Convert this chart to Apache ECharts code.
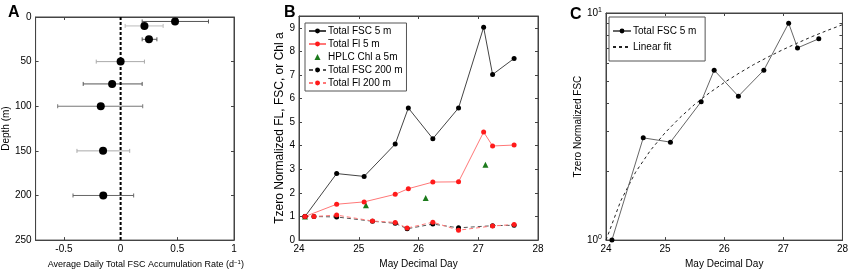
<!DOCTYPE html>
<html>
<head>
<meta charset="utf-8">
<script src="https://cdn.jsdelivr.net/npm/echarts@6/dist/echarts.min.js"></script>
<style>
    html, body {margin: 0; padding: 0; background: #fff;}
    #chart {width: 851px; height: 274px;}
</style>
</head>
<body>
<div id="chart"></div>
<script>
// panel A - accumulation rate by depth
var depthA = [5, 10, 25, 50, 75, 100, 150, 200];
var rateA = [0.48, 0.21, 0.25, 0.0, -0.075, -0.175, -0.155, -0.153];
var rateLoA = [0.19, 0.04, 0.19, -0.215, -0.33, -0.555, -0.385, -0.42];
var rateHiA = [0.775, 0.375, 0.32, 0.21, 0.19, 0.195, 0.08, 0.115];
var barShadeA = ['#555', '#bbb', '#555', '#aaa', '#555', '#777', '#aaa', '#666'];
var zeroLineX = [0, 0];
var zeroLineDepth = [0, 250];
var ticksXA = [-0.5, 0, 0.5, 1];
var ticksYA = [0, 50, 100, 150, 200, 250];

// panel B - normalized time series
var day5 = [24.1, 24.63, 25.09, 25.61, 25.83, 26.24, 26.67, 27.09, 27.24, 27.6];
var fsc5 = [1.0, 2.82, 2.7, 4.07, 5.6, 4.3, 5.6, 9.02, 7.02, 7.7];
var fl5 = [1.0, 1.52, 1.62, 1.94, 2.18, 2.46, 2.47, 4.58, 3.99, 4.03];
var dayChl = [24.1, 25.12, 26.12, 27.12];
var chl5 = [1.0, 1.48, 1.78, 3.19];
var day200 = [24.1, 24.25, 24.63, 25.23, 25.61, 25.81, 26.24, 26.67, 27.24, 27.6];
var fsc200 = [1.0, 1.0, 0.98, 0.8, 0.71, 0.48, 0.68, 0.52, 0.61, 0.63];
var fl200 = [1.0, 1.0, 1.06, 0.81, 0.75, 0.51, 0.76, 0.42, 0.6, 0.66];
var ticksXB = [24, 25, 26, 27, 28];
var ticksYB = [0, 1, 2, 3, 4, 5, 6, 7, 8, 9];

// panel C - log scale with fit
var fitDay = [24, 24.25, 24.5, 24.75, 25, 25.25, 25.5, 25.75, 26, 26.25, 26.5, 26.75, 27, 27.25, 27.5, 27.75, 28];
var fitVal = [1.0, 1.49, 1.99, 2.48, 2.97, 3.46, 3.96, 4.45, 4.94, 5.43, 5.93, 6.42, 6.91, 7.4, 7.9, 8.39, 8.88];
var ticksYC = [1, 10];
var minorYC = [1, 2, 3, 4, 5, 6, 7, 8, 9, 10];

var chart = echarts.init(document.getElementById('chart'));
var font = 'Liberation Sans';

function pairs(xs, ys) {
    var out = [];
    for (var i = 0; i < xs.length; i++) out.push([xs[i], ys[i]]);
    return out;
}

function mkAxis(grid, pos, type, min, max, ticks, labels, extra) {
    var a = {
        type: type, gridIndex: grid, position: pos, min: min, max: max,
        axisLine: {show: true, onZero: false, lineStyle: {color: '#444', width: 1}},
        axisTick: {show: true, inside: true, length: 3, customValues: ticks, lineStyle: {color: '#444'}},
        axisLabel: {show: labels, customValues: ticks, color: '#000', fontSize: 10, fontFamily: font, margin: 4},
        splitLine: {show: false},
        nameLocation: 'middle',
        nameTextStyle: {color: '#000', fontSize: 10, fontFamily: font}
    };
    for (var k in extra) a[k] = extra[k];
    return a;
}

var lineBase = {symbol: 'circle', symbolSize: 5};
var legendText = {fontSize: 10, color: '#000', fontFamily: font, padding: [0, 0, 0, -3]};
var triIcon = 'path://M0,10L5,0L10,10Z';

var option = {
    animation: false,
    textStyle: {fontFamily: font},
    title: [
        {text: 'A', left: 3, top: 0, textStyle: {fontSize: 16, fontWeight: 'bold', color: '#000'}},
        {text: 'B', left: 279, top: 0, textStyle: {fontSize: 16, fontWeight: 'bold', color: '#000'}},
        {text: 'C', left: 565, top: 2, textStyle: {fontSize: 16, fontWeight: 'bold', color: '#000'}}
    ],
    grid: [
        {left: 31, top: 17, width: 203, height: 230, show: true, borderColor: '#444', borderWidth: 1},
        {left: 299, top: 16, width: 239, height: 231, show: true, borderColor: '#444', borderWidth: 1},
        {left: 606, top: 13, width: 237, height: 233, show: true, borderColor: '#444', borderWidth: 1}
    ],
    legend: [
        {
            left: 305, top: 23, orient: 'vertical', itemGap: 3, itemWidth: 17, itemHeight: 6,
            padding: [3, 4, 3, 3], borderColor: '#555', borderWidth: 1,
            textStyle: legendText,
            data: ['Total FSC 5 m', 'Total Fl 5 m', {name: 'HPLC Chl a 5m', icon: triIcon},
                'Total FSC 200 m', 'Total Fl 200 m']
        },
        {
            left: 609, top: 17, orient: 'vertical', itemGap: 6, itemWidth: 18, itemHeight: 6,
            padding: [9, 6, 9, 3], borderColor: '#555', borderWidth: 1,
            textStyle: legendText,
            data: ['Total FSC 5 m ', {name: 'Linear fit', itemStyle: {opacity: 0}}]
        }
    ],
    xAxis: [
        mkAxis(0, 'bottom', 'value', -0.75, 1, ticksXA, true, {
            name: 'Average Daily Total FSC Accumulation Rate (d{sup|\u22121})', nameGap: 15,
            nameTextStyle: {color: '#000', fontSize: 9, fontFamily: font, padding: [0, 0, 0, 22],
                rich: {sup: {fontSize: 6, padding: [0, 0, 5, 0]}}}
        }),
        mkAxis(0, 'top', 'value', -0.75, 1, ticksXA, false, {}),
        mkAxis(1, 'bottom', 'value', 24, 28, ticksXB, true, {name: 'May Decimal Day', nameGap: 14}),
        mkAxis(1, 'top', 'value', 24, 28, ticksXB, false, {}),
        mkAxis(2, 'bottom', 'value', 24, 28, ticksXB, true, {name: 'May Decimal Day', nameGap: 14}),
        mkAxis(2, 'top', 'value', 24, 28, ticksXB, false, {})
    ],
    yAxis: [
        mkAxis(0, 'left', 'value', 0, 250, ticksYA, true, {inverse: true, name: 'Depth (m)', nameGap: 19}),
        mkAxis(0, 'right', 'value', 0, 250, ticksYA, false, {inverse: true}),
        mkAxis(1, 'left', 'value', 0, 9.5, ticksYB, true, {
            name: 'Tzero Normalized FL, FSC, or Chl a', nameGap: 3,
            nameTextStyle: {color: '#000', fontSize: 12, fontFamily: font}
        }),
        mkAxis(1, 'right', 'value', 0, 9.5, ticksYB, false, {}),
        mkAxis(2, 'left', 'log', 1, 10, minorYC, true, {
            name: 'Tzero Normalized FSC', nameGap: 22,
            axisLabel: {show: true, customValues: ticksYC, color: '#000', fontSize: 10, fontFamily: font, margin: 4,
                formatter: function (v) { return '10{sup|' + Math.round(Math.log(v) / Math.LN10) + '}'; },
                rich: {sup: {fontSize: 7, padding: [0, 0, 6, 0]}}}
        }),
        mkAxis(2, 'right', 'log', 1, 10, minorYC, false, {})
    ],
    series: [
        {
            type: 'custom', xAxisIndex: 0, yAxisIndex: 0,
            data: depthA.map(function (d, i) { return [rateLoA[i], d, rateHiA[i], i]; }),
            encode: {x: [0, 2], y: 1},
            renderItem: function (params, api) {
                var y = api.value(1);
                var a = api.coord([api.value(0), y]);
                var b = api.coord([api.value(2), y]);
                var c = barShadeA[api.value(3)];
                var st = {stroke: c, lineWidth: 1};
                return {type: 'group', children: [
                    {type: 'line', shape: {x1: a[0], y1: a[1], x2: b[0], y2: b[1]}, style: st},
                    {type: 'line', shape: {x1: a[0], y1: a[1] - 2, x2: a[0], y2: a[1] + 2}, style: st},
                    {type: 'line', shape: {x1: b[0], y1: b[1] - 2, x2: b[0], y2: b[1] + 2}, style: st}
                ]};
            }
        },
        {
            type: 'line', xAxisIndex: 0, yAxisIndex: 0, symbol: 'none',
            data: pairs(zeroLineX, zeroLineDepth),
            lineStyle: {color: '#000', width: 2, type: [3, 2]}
        },
        {
            type: 'scatter', xAxisIndex: 0, yAxisIndex: 0, symbolSize: 8,
            data: pairs(rateA, depthA), itemStyle: {color: '#000', opacity: 1}
        },
        // panel B
        Object.assign({}, lineBase, {
            name: 'Total FSC 200 m', type: 'line', xAxisIndex: 2, yAxisIndex: 2,
            data: pairs(day200, fsc200),
            lineStyle: {color: '#555', width: 1, type: [4, 3]}, itemStyle: {color: '#000'}
        }),
        Object.assign({}, lineBase, {
            name: 'Total Fl 200 m', type: 'line', xAxisIndex: 2, yAxisIndex: 2,
            data: pairs(day200, fl200),
            lineStyle: {color: '#ff7777', width: 1, type: [4, 3]}, itemStyle: {color: '#ff1a1a'}
        }),
        Object.assign({}, lineBase, {
            name: 'Total FSC 5 m', type: 'line', xAxisIndex: 2, yAxisIndex: 2,
            data: pairs(day5, fsc5),
            lineStyle: {color: '#444', width: 1}, itemStyle: {color: '#000'}
        }),
        Object.assign({}, lineBase, {
            name: 'Total Fl 5 m', type: 'line', xAxisIndex: 2, yAxisIndex: 2,
            data: pairs(day5, fl5),
            lineStyle: {color: '#ff7777', width: 1}, itemStyle: {color: '#ff1a1a'}
        }),
        {
            name: 'HPLC Chl a 5m', type: 'scatter', xAxisIndex: 2, yAxisIndex: 2,
            symbol: 'triangle', symbolSize: 6,
            data: pairs(dayChl, chl5), itemStyle: {color: '#1b7a1b', opacity: 1}
        },
        // panel C
        {
            name: 'Linear fit', type: 'line', xAxisIndex: 4, yAxisIndex: 4, symbol: 'none',
            data: pairs(fitDay, fitVal),
            lineStyle: {color: '#222', width: 1, type: [3, 3]}
        },
        Object.assign({}, lineBase, {
            name: 'Total FSC 5 m ', type: 'line', xAxisIndex: 4, yAxisIndex: 4,
            data: pairs(day5, fsc5),
            lineStyle: {color: '#666', width: 1}, itemStyle: {color: '#000'}
        })
    ]
};

chart.setOption(option);
</script>
</body>
</html>
